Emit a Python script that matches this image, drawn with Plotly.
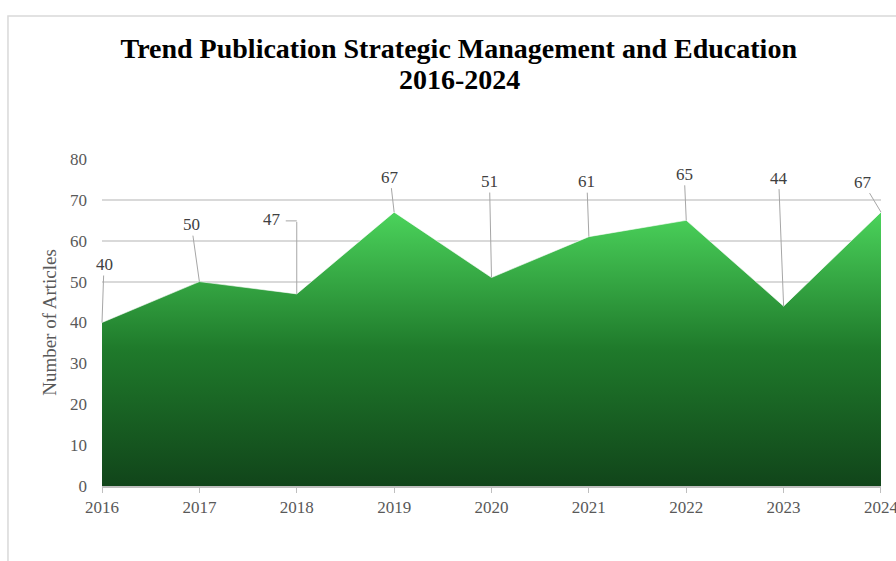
import plotly.graph_objects as go

years = [2016, 2017, 2018, 2019, 2020, 2021, 2022, 2023, 2024]
articles = [40, 50, 47, 67, 51, 61, 65, 44, 67]
y_ticks = [0, 10, 20, 30, 40, 50, 60, 70, 80]

# label offsets (pixels) from each point to its callout text
label_dx = [2, -8, -25, -4, -2, -2, -2, -5, -18]
label_dy = [-58, -57, -74, -35, -96, -55, -46, -128, -30]

SERIF = "Liberation Serif"

fig = go.Figure()
fig.add_trace(go.Scatter(
    x=years, y=articles,
    mode="lines",
    line=dict(color="rgba(255,255,255,0.6)", width=1),
    fill="tozeroy",
    fillgradient=dict(
        type="vertical",
        colorscale=[[0, "#11451a"], [0.5, "#1f7a2b"], [1, "#4bd35b"]],
        start=0, stop=max(articles),
    ),
    hoverinfo="x+y",
    showlegend=False,
))

annotations = []
for i, (x, y) in enumerate(zip(years, articles)):
    if i == 2:
        # vertical leg of the elbow connector, text placed to the left
        annotations.append(dict(
            x=x, y=y, xref="x", yref="y", text=" ",
            showarrow=True, arrowhead=0, arrowwidth=1, arrowcolor="#a6a6a6",
            ax=0, ay=label_dy[i] + 1,
            font=dict(family=SERIF, size=1), standoff=0, borderpad=0,
        ))
        annotations.append(dict(
            x=x, y=y, xref="x", yref="y",
            text=str(y), showarrow=False,
            xshift=label_dx[i], yshift=-label_dy[i],
            font=dict(family=SERIF, size=17, color="#404040"),
        ))
        continue
    annotations.append(dict(
        x=x, y=y, xref="x", yref="y",
        text=str(y),
        showarrow=True, arrowhead=0, arrowwidth=1, arrowcolor="#a6a6a6",
        ax=label_dx[i], ay=label_dy[i],
        font=dict(family=SERIF, size=17, color="#404040"),
        standoff=0, borderpad=1,
    ))

# second title line, set a little tighter than the default line spacing
annotations.append(dict(
    x=0.459, y=1.2446, xref="paper", yref="paper",
    xanchor="center", yanchor="middle", showarrow=False,
    text="<b>2016-2024</b>",
    font=dict(family=SERIF, size=28, color="#000000"),
))

shapes = [
    # outer chart frame
    dict(type="rect", xref="paper", yref="paper",
         x0=-0.1207, x1=1.2, y0=-0.6, y1=1.437,
         line=dict(color="#d9d9d9", width=1.5), fillcolor="rgba(0,0,0,0)",
         layer="below"),
    # horizontal leg of the 2018 elbow connector
    dict(type="line", xref="x", yref="y",
         xsizemode="pixel", ysizemode="pixel",
         xanchor=years[2], yanchor=articles[2],
         x0=-11, x1=0, y0=-label_dy[2] - 1, y1=-label_dy[2] - 1,
         line=dict(color="#a6a6a6", width=1)),
]

fig.update_layout(
    width=896, height=561,
    margin=dict(l=102, r=15, t=159, b=75),
    paper_bgcolor="white", plot_bgcolor="white",
    title=dict(
        text="<b>Trend Publication Strategic Management and Education</b>",
        x=0.512, xanchor="center", y=0.9144, yanchor="middle",
        font=dict(family=SERIF, size=28, color="#000000"),
    ),
    xaxis=dict(
        range=[2015.9999, 2024.0001], tickvals=years,
        ticktext=[str(v) for v in years],
        showgrid=False, zeroline=False, automargin=False,
        showline=True, linecolor="#bfbfbf", linewidth=1.5,
        ticks="outside", ticklen=5, tickcolor="#bfbfbf",
        ticklabeloverflow="allow",
        tickfont=dict(family=SERIF, size=17, color="#595959"),
    ),
    yaxis=dict(
        range=[0, 80], tickvals=y_ticks,
        showgrid=True, gridcolor="#d9d9d9", gridwidth=1.5,
        zeroline=False, showline=False, ticks="", automargin=False,
        ticklabelstandoff=14,
        tickfont=dict(family=SERIF, size=17, color="#595959"),
        title=dict(text="Number of Articles", standoff=8,
                   font=dict(family=SERIF, size=19, color="#595959")),
    ),
    annotations=annotations,
    shapes=shapes,
)

fig.write_html("out.html")
